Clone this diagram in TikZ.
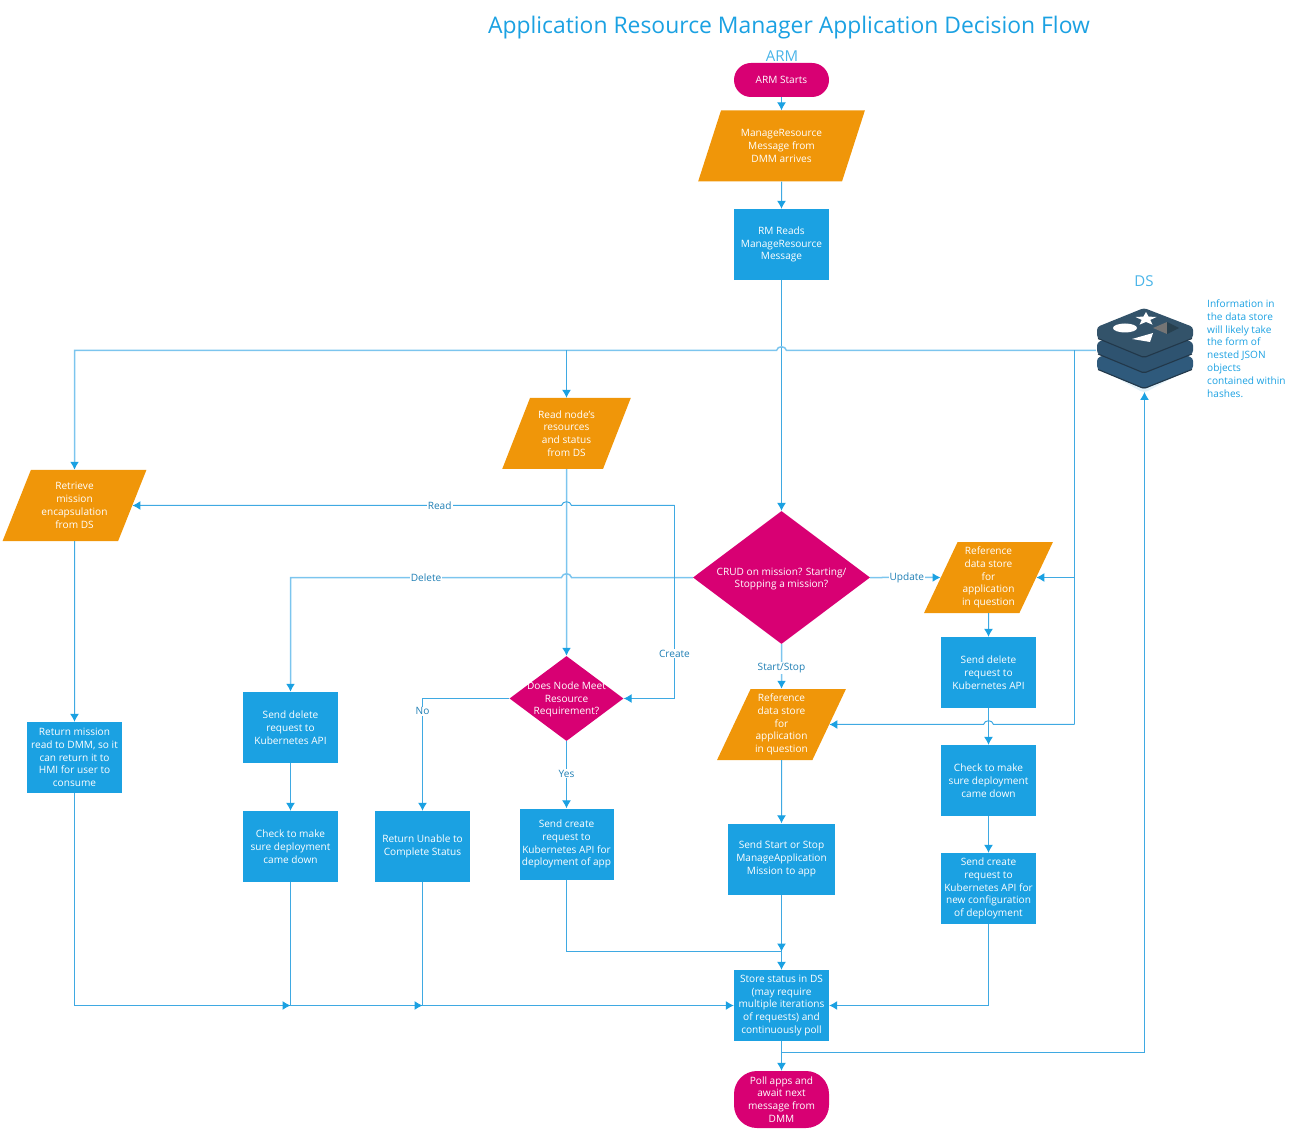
\documentclass[tikz,border=0pt]{standalone}
\usepackage{fontspec}
\setmainfont{Open Sans}
\usetikzlibrary{shapes.geometric,arrows.meta,calc}
\definecolor{flowblue}{HTML}{1BA1E2}
\definecolor{flowpink}{HTML}{D80073}
\definecolor{floworange}{HTML}{F09609}
\definecolor{linemain}{HTML}{3FA9E2}
\definecolor{linelight}{HTML}{7CC5EE}
\definecolor{lbltext}{HTML}{1F7FB5}
\definecolor{dsa}{HTML}{2F5A7C}
\definecolor{dsb}{HTML}{2E5370}
\definecolor{dsc}{HTML}{33536A}
\definecolor{dsedge}{HTML}{22384A}
\definecolor{dsglow}{HTML}{E4F1F8}
\definecolor{dsgrey}{HTML}{757575}
\definecolor{dsdark}{HTML}{27404F}
\newcommand\hop[1]{-- ($(#1)+(5,0)$) .. controls +(-1,-5) and +(1,-5) .. ($(#1)+(-5,0)$)}
\tikzset{
  txt/.style={text=white,align=center,font=\fontsize{10.1}{12.8}\selectfont,inner sep=0pt},
  procbox/.style={txt,rectangle,fill=flowblue,minimum width=95pt,minimum height=71pt},
  databox/.style={txt,trapezium,trapezium left angle=65,trapezium right angle=115,trapezium stretches=true,fill=floworange,minimum width=129pt,minimum height=71pt},
  decide/.style={diamond,fill=flowpink,inner sep=0pt,aspect=1.33},
  termbox/.style={txt,rectangle,fill=flowpink},
  conn/.style={draw=linemain,line width=1pt},
  connlight/.style={draw=linelight,line width=1.5pt},
  tip/.style={-{Latex[length=8pt,width=9pt,color=flowblue]}},
  lbl/.style={text=lbltext,fill=white,inner sep=1pt,font=\fontsize{10.1}{12.8}\selectfont},
  heading/.style={text=flowblue,inner sep=0pt}
}
\begin{document}
\begin{tikzpicture}[x=1pt,y=-1pt]
\useasboundingbox (0,0) rectangle (1294,1131);
% headings
\node[heading,font=\fontsize{22.9}{28}\selectfont] (title) at (789,28) {Application Resource Manager Application Decision Flow};
\node[heading,font=\fontsize{15}{18}\selectfont,text=flowblue!80] (armlabel) at (782,56) {ARM};
\node[heading,font=\fontsize{15}{18}\selectfont,text=flowblue!80] (dslabel) at (1144,281) {DS};
\node[heading,anchor=north west,align=left,font=\fontsize{10.1}{12.8}\selectfont] (note) at (1207,299.5) {Information in\\the data store\\will likely take\\the form of\\nested JSON\\objects\\contained within\\hashes.};
% data store icon
\node[minimum width=97pt,minimum height=84pt,inner sep=0pt] (ds) at (1144.5,350.5) {};
\fill[dsglow,rounded corners=4pt] (1095,366) -- (1144,393) -- (1195,366) -- cycle;
\foreach \o/\c in {31/dsa,15.5/dsb,0/dsc}{
  \fill[\c,rounded corners=3pt,shift={(0,\o)}] (1144,308) -- (1193,327) -- (1193,338) -- (1144,358) -- (1097,338) -- (1097,327) -- cycle;
  \draw[dsedge,line width=1.1pt,rounded corners=2pt,shift={(0,\o)}] (1098,338.5) -- (1144,357.5) -- (1192,338.5);
}
\fill[white] (1125,328) ellipse [x radius=12,y radius=4.5];
\fill[white] (1146,312) -- (1148.6,316.6) -- (1156.5,317) -- (1150.3,319.9) -- (1152.5,324.7) -- (1146,321.9) -- (1139.5,324.7) -- (1141.7,319.9) -- (1135.5,317) -- (1143.4,316.6) -- cycle;
\fill[white] (1132,339) -- (1153,333) -- (1150,342) -- cycle;
\fill[dsgrey] (1153,328) -- (1167,322) -- (1167,334) -- cycle;
\fill[dsdark] (1167,322) -- (1179,328) -- (1167,334) -- cycle;
% nodes
\node[termbox,minimum width=95pt,minimum height=34pt,rounded corners=17pt] (start) at (781.5,80) {ARM Starts};
\node[databox,minimum width=167pt] (manage) at (781.5,146) {ManageResource\\Message from\\DMM arrives};
\node[procbox] (rm) at (781.5,244.5) {RM Reads\\ManageResource\\Message};
\node[databox] (readnode) at (566.5,433.5) {Read node's\\resources\\and status\\from DS};
\node[databox,minimum width=144pt] (retrieve) at (74.5,505.5) {Retrieve\\mission\\encapsulation\\from DS};
\node[decide,minimum width=177pt,minimum height=133pt,label={[txt,yshift=-1.5pt]center:CRUD on mission? Starting/\\Stopping a mission?}] (crud) at (781.5,577.5) {};
\node[databox] (refa) at (988.5,577.5) {Reference\\data store\\for\\application\\in question};
\node[databox] (refb) at (781.5,724.5) {Reference\\data store\\for\\application\\in question};
\node[decide,minimum width=114pt,minimum height=85pt,label={[txt,yshift=-1pt]center:Does Node Meet\\Resource\\Requirement?}] (meet) at (566.5,698.5) {};
\node[procbox] (retmission) at (74.5,757.5) {Return mission\\read to DMM, so it\\can return it to\\HMI for user to\\consume};
\node[procbox] (delleft) at (290.5,727.5) {Send delete\\request to\\Kubernetes API};
\node[procbox] (checkleft) at (290.5,846.5) {Check to make\\sure deployment\\came down};
\node[procbox] (unable) at (422.5,846.5) {Return Unable to\\Complete Status};
\node[procbox,minimum width=94pt] (createapp) at (566.5,844) {Send create\\request to\\Kubernetes API for\\deployment of app};
\node[procbox,minimum width=107pt] (startstop) at (781.5,859) {Send Start or Stop\\ManageApplication\\Mission to app};
\node[procbox] (store) at (781.5,1005.5) {Store status in DS\\(may require\\multiple iterations\\of requests) and\\continuously poll};
\node[termbox,minimum width=95pt,minimum height=57pt,rounded corners=23pt] (poll) at (781.5,1099.5) {Poll apps and\\await next\\message from\\DMM};
\node[procbox] (delright) at (988.5,672.5) {Send delete\\request to\\Kubernetes API};
\node[procbox] (checkright) at (988.5,780.5) {Check to make\\sure deployment\\came down};
\node[procbox] (createright) at (988.5,888.5) {Send create\\request to\\Kubernetes API for\\new configuration\\of deployment};
% junctions
\coordinate (xa) at (rm.south |- ds.west);
\coordinate (xb) at (readnode.south |- retrieve.east);
\coordinate (xc) at (readnode.south |- crud.west);
\coordinate (xd) at (delright.south |- refb.east);
\coordinate (ja) at (1074.5,350.5);
\coordinate (jb) at (readnode.north |- ds.west);
\coordinate (jc) at (674.5,577.5);
\coordinate (jd) at (jc |- retrieve.east);
\coordinate (je) at (jc |- meet.east);
\coordinate (jf) at (ja |- refb.east);
\coordinate (jg) at (781.5,951.5);
\coordinate (jh) at (delleft.south |- store.west);
\coordinate (ji) at (unable.south |- store.west);
\coordinate (jj) at (781.5,1052.5);
\coordinate (jk) at (1144.5,1052.5);
\coordinate (jl) at (1144.5,392);
% connectors
\draw[conn,tip] (start) -- (manage);
\draw[conn,tip] (manage) -- (rm);
\draw[conn,tip] (rm) -- (crud);
\draw[connlight,tip] (ds.west) \hop{xa} -| (retrieve.north);
\draw[conn,tip] (jb) -- (readnode.north);
\draw[conn] (ja) -- (ja |- refa.east);
\draw[conn,tip] (ja |- refa.east) -- (refa.east);
\draw[conn] (ja |- refa.east) -- (jf);
\draw[conn,tip] (jf) \hop{xd} -- (refb.east);
\draw[connlight,tip] (readnode.south) -- (meet.north);
\draw[connlight,tip] (crud.west) \hop{xc} -- node[lbl,pos=.5] (ldelete) {Delete} (xc -| delleft.north) -- (delleft.north);
\draw[conn,tip] (jd) \hop{xb} -- node[lbl,pos=.284] (lread) {Read} (retrieve.east);
\draw[conn] (jc) -- (jd);
\draw[conn] (jc) -- node[lbl,pos=.628] (lcreate) {Create} (je);
\draw[conn,tip] (je) -- (meet.east);
\draw[connlight,tip] (crud.east) -- node[lbl,pos=.52] (lupdate) {Update} (refa.west);
\draw[connlight,tip] (crud.south) -- node[lbl,pos=.53] (lstart) {Start/Stop} (refb.north);
\draw[conn,tip] (refa) -- (delright);
\draw[conn,tip] (delright) -- (checkright);
\draw[conn,tip] (checkright) -- (createright);
\draw[conn,tip] (createright.south) |- (store.east);
\draw[conn,tip] (refb) -- (startstop);
\draw[conn,tip] (startstop) -- (jg);
\draw[conn,tip] (jg) -- (store.north);
\draw[conn] (createapp.south) |- (jg);
\draw[conn,tip] (meet.south) -- node[lbl,pos=.485] (lyes) {Yes} (createapp.north);
\draw[conn,tip] (meet.west) -| node[lbl,pos=.557] (lno) {No} (unable.north);
\draw[conn,tip] (retrieve.south) -- (retmission.north);
\draw[conn,tip] (delleft) -- (checkleft);
\draw[conn,tip] (retmission.south) |- (jh);
\draw[conn] (checkleft.south) -- (jh);
\draw[conn,tip] (jh) -- (ji);
\draw[conn] (unable.south) -- (ji);
\draw[conn,tip] (ji) -- (store.west);
\draw[conn,tip] (store) -- (poll);
\draw[conn] (jj) -- (jk);
\draw[conn,tip] (jk) -- (jl);
\end{tikzpicture}
\end{document}
